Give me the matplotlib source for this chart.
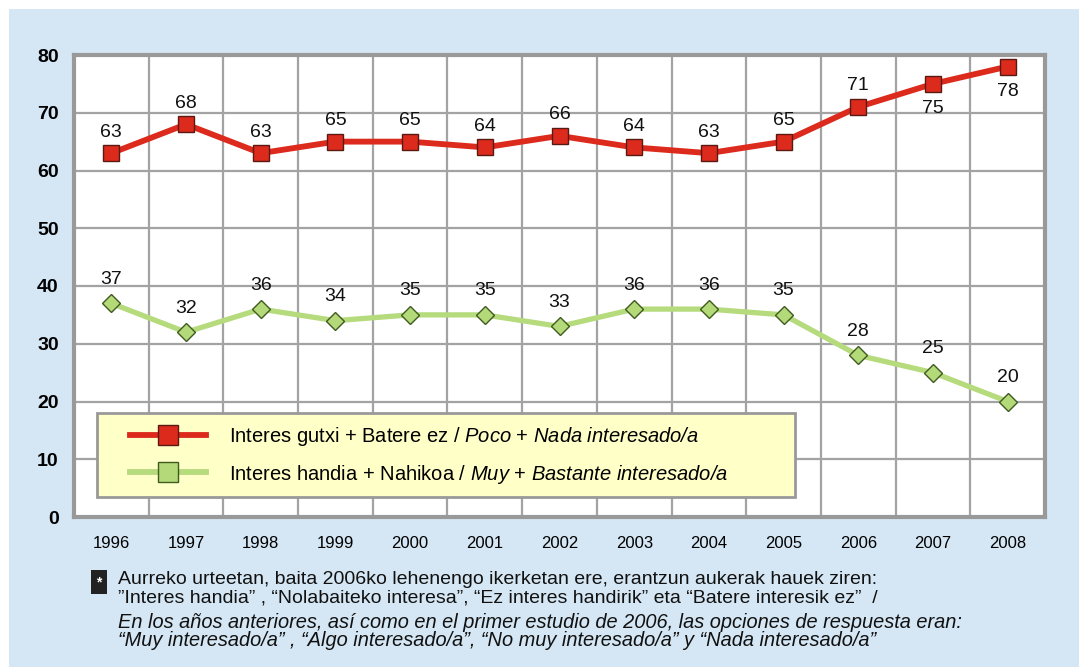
import matplotlib
matplotlib.use("Agg")
import matplotlib.pyplot as plt
from matplotlib.patches import Rectangle
from matplotlib.lines import Line2D

plt.rcParams['font.family'] = ['Liberation Sans', 'DejaVu Sans']
plt.rcParams['mathtext.fontset'] = 'custom'
plt.rcParams['mathtext.rm'] = 'Liberation Sans:italic'
plt.rcParams['mathtext.it'] = 'Liberation Sans:italic'

# data
years = ['1996', '1997', '1998', '1999', '2000', '2001', '2002',
         '2003', '2004', '2005', '2006', '2007', '2008']
low_interest = [63, 68, 63, 65, 65, 64, 66, 64, 63, 65, 71, 75, 78]
high_interest = [37, 32, 36, 34, 35, 35, 33, 36, 36, 35, 28, 25, 20]
low_label = r'Interes gutxi + Batere ez / $\it{Poco}$ + $\it{Nada\ interesado/a}$'
high_label = r'Interes handia + Nahikoa / $\it{Muy}$ + $\it{Bastante\ interesado/a}$'

W, H = 1079, 671
fig = plt.figure(figsize=(W / 100, H / 100), dpi=100, facecolor='white')

# light blue panel
fig.patches.append(Rectangle((9 / W, 4 / H), (W - 9) / W, (667 - 9) / H,
                             transform=fig.transFigure, facecolor='#d5e7f4',
                             edgecolor='none', zorder=-5))

ax = fig.add_axes([74 / W, (H - 517) / H, (1045 - 74) / W, (517 - 55) / H])
ax.set_zorder(1)
ax.set_facecolor('white')
x = list(range(len(years)))

red = '#dc2a1c'
green = '#b5db7c'

ax.plot(x, low_interest, color=red, lw=4.2, marker='s', markersize=12,
        markerfacecolor=red, markeredgecolor='#5a1a12', markeredgewidth=1, zorder=4)
ax.plot(x, high_interest, color=green, lw=3.8, marker='D', markersize=9.5,
        markerfacecolor='#b3d978', markeredgecolor='#3f5b20', markeredgewidth=1, zorder=4)

for i, v in enumerate(low_interest):
    off = -25 if years[i] in ('2007', '2008') else 21
    ax.annotate(str(v), (i, v), xytext=(0, off), textcoords='offset pixels',
                ha='center', va='center', fontsize=14, color='#111111', zorder=5)
for i, v in enumerate(high_interest):
    ax.annotate(str(v), (i, v), xytext=(0, 24), textcoords='offset pixels',
                ha='center', va='center', fontsize=14, color='#111111', zorder=5)

ax.set_xlim(-0.5, len(years) - 0.5)
ax.set_ylim(0, 80)
ax.set_yticks(range(0, 81, 10))
ax.set_yticklabels([str(t) for t in range(0, 81, 10)], fontsize=14, fontweight='bold')
ax.set_xticks(x)
ax.set_xticklabels(years, fontsize=12)
ax.set_xticks([i + 0.5 for i in x[:-1]], minor=True)
ax.tick_params(axis='both', which='both', length=0)
ax.tick_params(axis='x', pad=14)
ax.tick_params(axis='y', pad=11)
ax.grid(False)
ax.grid(True, axis='y', which='major', color='#a3a3a3', lw=1.6)
ax.grid(True, axis='x', which='minor', color='#a3a3a3', lw=1.6)
for s in ax.spines.values():
    s.set_color('#999999')
    s.set_linewidth(3)

# legend box
fig.patches.append(Rectangle((97 / W, 1 - 497 / H), (795 - 97) / W, (497 - 413) / H,
                             transform=fig.transFigure, facecolor='#ffffc8',
                             edgecolor='#999999', lw=2, zorder=5))
handles = [
    Line2D([], [], color=red, lw=4.2, marker='s', markersize=15,
           markerfacecolor=red, markeredgecolor='#5a1a12', markeredgewidth=1),
    Line2D([], [], color=green, lw=4.2, marker='s', markersize=15,
           markerfacecolor='#b3d978', markeredgecolor='#3f5b20', markeredgewidth=1),
]
leg = fig.legend(handles, [low_label, high_label], loc='upper left',
                 bbox_to_anchor=(130 / W, 1 - 425 / H), borderaxespad=0,
                 fontsize=14.5, handlelength=3.75, handletextpad=1.15,
                 labelspacing=0.72, borderpad=0, frameon=False)
leg.set_zorder(6)

# footnote
fig.text(99 / W, 1 - 582 / H, '*', fontsize=10, color='white', fontweight='bold',
         ha='center', va='center',
         bbox=dict(boxstyle='square,pad=0.35', facecolor='#222222', edgecolor='none'))
fig.text(118 / W, 1 - 580 / H,
         'Aurreko urteetan, baita 2006ko lehenengo ikerketan ere, erantzun aukerak hauek ziren:',
         fontsize=14, va='center', color='#111111')
fig.text(118 / W, 1 - 598 / H,
         '\u201dInteres handia\u201d , \u201cNolabaiteko interesa\u201d, \u201cEz interes handirik\u201d eta \u201cBatere interesik ez\u201d  /',
         fontsize=14, va='center', color='#111111')
fig.text(118 / W, 1 - 623 / H,
         'En los a\u00f1os anteriores, as\u00ed como en el primer estudio de 2006, las opciones de respuesta eran:',
         fontsize=14.4, va='center', style='italic', color='#111111')
fig.text(118 / W, 1 - 641 / H,
         '\u201cMuy interesado/a\u201d , \u201cAlgo interesado/a\u201d, \u201cNo muy interesado/a\u201d y \u201cNada interesado/a\u201d',
         fontsize=14.4, va='center', style='italic', color='#111111')

fig.savefig('out.png', dpi=100, facecolor='white')
